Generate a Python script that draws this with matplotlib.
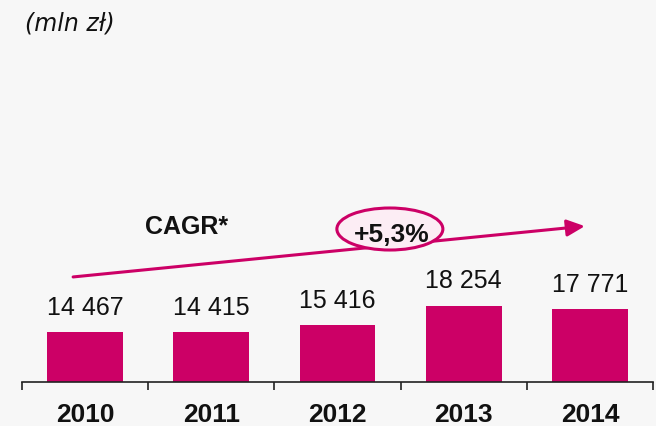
import matplotlib.pyplot as plt
from matplotlib.patches import Ellipse

# dane (mln zł)
years = ['2010', '2011', '2012', '2013', '2014']
values = [14467, 14415, 15416, 18254, 17771]
cagr_label = '+5,3%'

bar_color = '#CC0066'
bg = '#F7F7F7'

plt.rcParams['font.family'] = ['Liberation Sans', 'DejaVu Sans']

fig = plt.figure(figsize=(6.56, 4.26), dpi=100, facecolor=bg)
ax = fig.add_axes([22 / 656, 44 / 426, 631 / 656, 382 / 426])
ax.set_facecolor(bg)

x = range(len(years))
bars = ax.bar(x, values, width=0.6, color=bar_color, zorder=2)
ax.bar_label(bars, labels=[f'{v:,}'.replace(',', ' ') for v in values],
             padding=9, fontsize=18, color='#111111')

ax.set_xlim(-0.5, len(years) - 0.5)
ax.set_ylim(7185, 62821)

for s in ['top', 'right', 'left']:
    ax.spines[s].set_visible(False)
ax.spines['bottom'].set_linewidth(1.2)
ax.spines['bottom'].set_color('#222222')
ax.set_yticks([])

ax.set_xticks(list(x))
ax.set_xticklabels(years, fontsize=19, fontweight='bold', color='#111111')
ax.tick_params(axis='x', which='major', length=0, pad=15)
ax.set_xticks([i - 0.5 for i in range(len(years) + 1)], minor=True)
ax.tick_params(axis='x', which='minor', length=6, width=1.2, color='#222222')

# strzałka CAGR
ax.annotate('', xy=(0.892, 0.408), xytext=(0.081, 0.275), xycoords='axes fraction',
            arrowprops=dict(arrowstyle='-|>,head_length=0.6,head_width=0.28',
                            mutation_scale=18, color=bar_color, lw=2.2,
                            shrinkA=0, shrinkB=0), zorder=3)
ell = Ellipse((0.583, 0.4005), 0.168, 0.110, transform=ax.transAxes,
              facecolor='#FCEDF4', edgecolor=bar_color, lw=2.2, zorder=4)
ax.add_patch(ell)
ax.text(0.586, 0.385, cagr_label, transform=ax.transAxes, ha='center', va='center',
        fontsize=19, fontweight='bold', color='#111111', zorder=5)
ax.text(0.2615, 0.406, 'CAGR*', transform=ax.transAxes, ha='center', va='center',
        fontsize=18, fontweight='bold', color='#111111')

fig.text(25 / 656, 1 - 23 / 426, '(mln zł)', ha='left', va='center',
         fontsize=17, style='italic', family='DejaVu Sans', color='#111111')

fig.savefig('out.png', dpi=100, facecolor=bg)
